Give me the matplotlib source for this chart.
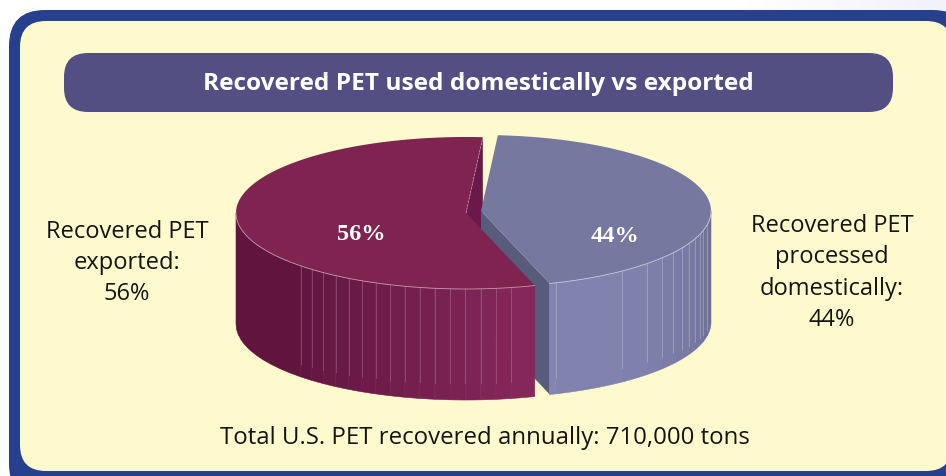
import numpy as np
import matplotlib
matplotlib.use("Agg")
import matplotlib.pyplot as plt
from matplotlib.colors import to_rgb
from matplotlib.patches import FancyBboxPatch, Polygon

# data
categories = ["Recovered PET exported", "Recovered PET processed domestically"]
shares = [56, 44]
side_labels = ["Recovered PET\nexported:\n56%", "Recovered PET\nprocessed\ndomestically:\n44%"]
title = "Recovered PET used domestically vs exported"
footer = "Total U.S. PET recovered annually: 710,000 tons"

# pie geometry, in picture pixels
START_ANGLE = 85.8
RX, RY, DEPTH = 230, 76, 111
RED_C = (466, 213)
BLUE_C = (481, 211)
RED_TOP, RED_CUT, RED_L, RED_R = "#7f2450", "#6a1a4a", "#60143e", "#84275a"
BLUE_TOP, BLUE_CUT, BLUE_L, BLUE_R = "#75789f", "#575b7c", "#8285af", "#6d7098"
RIM_RED, RIM_BLUE = "#c59aa8", "#c9cbd8"


def pt(c, ang, drop=0):
    a = np.radians(ang)
    return c[0] + RX * np.cos(a), c[1] - RY * np.sin(a) + drop


def arc(c, a0, a1, drop=0, n=120):
    return np.array([pt(c, a, drop) for a in np.linspace(a0, a1, n)])


def mix(c0, c1, t):
    return tuple((1 - t) * np.array(to_rgb(c0)) + t * np.array(to_rgb(c1)))


def wall(ax, c, edges, col0, col1, line_col):
    # one flat band between each pair of edges, with a thin light seam
    for i in range(len(edges) - 1):
        a0, a1 = edges[i], edges[i + 1]
        t = i / max(len(edges) - 2, 1)
        pts = np.vstack([arc(c, a0, a1, n=12), arc(c, a1, a0, DEPTH, n=12)])
        col = mix(col0, col1, t)
        ax.add_patch(Polygon(pts, closed=True, fc=col, ec=col, lw=0.4, zorder=3))
        if 0 < i:
            x, y = pt(c, a0)
            ax.plot([x, x], [y, y + DEPTH * (0.97 - 0.12 * abs(np.sin(np.radians(a0))))],
                    color=line_col, lw=0.6, alpha=0.4, zorder=3.1)


fig = plt.figure(figsize=(9.46, 4.76), dpi=100, facecolor="white")
ax = fig.add_axes([0, 0, 1, 1])
ax.set_xlim(0, 946)
ax.set_ylim(476, 0)
ax.axis("off")

# faint lavender wash behind the top right corner
wash = np.linspace(0, 1, 200)[None, :, None] * (np.array(to_rgb("#f1f2fa")) - 1) + 1
ax.imshow(wash, extent=(746, 946, 476, 0), aspect="auto", zorder=0)
ax.set_xlim(0, 946)
ax.set_ylim(476, 0)

ax.add_patch(FancyBboxPatch((9, 10), 960, 490, boxstyle="round,pad=0,rounding_size=36",
                            fc="#26408d", ec="none", zorder=1))
ax.add_patch(FancyBboxPatch((20, 21), 932, 450, boxstyle="round,pad=0,rounding_size=26",
                            fc="#fffacd", ec="none", zorder=1.1))
ax.add_patch(FancyBboxPatch((64, 53), 829, 59, boxstyle="round,pad=0,rounding_size=24",
                            fc="#544f82", ec="none", zorder=2))
ax.text(478, 84, title, color="white", fontsize=17.6, fontweight="bold",
        family="Open Sans", ha="center", va="center", zorder=5)

# angles follow from the shares
red_end = START_ANGLE + 360 * shares[0] / sum(shares)
blue_end = red_end + 360 * shares[1] / sum(shares)

# red cut face at the back shows through the gap
s = pt(RED_C, START_ANGLE)
ax.add_patch(Polygon([RED_C, s, (s[0], s[1] + DEPTH), (RED_C[0], RED_C[1] + DEPTH)],
                     closed=True, fc=RED_CUT, ec="none", zorder=2.5))

# blue slice
e = pt(BLUE_C, red_end)
ax.add_patch(Polygon([BLUE_C, e, (e[0], e[1] + DEPTH), (BLUE_C[0], BLUE_C[1] + DEPTH)],
                     closed=True, fc=BLUE_CUT, ec="none", zorder=2.6))
blue_edges = [red_end, 288.9, 307.7, 316.1, 321.8, 326.5, 331, 334.5, 338.3, 342, 345.2, 349.4, 360]
wall(ax, BLUE_C, blue_edges, BLUE_L, BLUE_R, "#d8d9e4")
ax.add_patch(Polygon(np.vstack([[BLUE_C], arc(BLUE_C, red_end, blue_end, n=300)]),
                     closed=True, fc=BLUE_TOP, ec="none", zorder=3.5))
ax.plot(*arc(BLUE_C, red_end, 360).T, color=RIM_BLUE, lw=0.6, zorder=3.6)

# red slice
red_edges = [180, 224] + [224 + 3.82 * i for i in range(1, 15)] + [281.3, red_end]
wall(ax, RED_C, red_edges, RED_L, RED_R, "#c598aa")
ax.add_patch(Polygon(np.vstack([[RED_C], arc(RED_C, START_ANGLE, red_end, n=300)]),
                     closed=True, fc=RED_TOP, ec="none", zorder=4))
ax.plot(*arc(RED_C, 180, red_end).T, color=RIM_RED, lw=0.6, zorder=4.1)
ax.plot([RED_C[0], s[0]], [RED_C[1], s[1]], color=RIM_RED, lw=0.5, ls=(0, (3, 2)), zorder=4.1)

ax.text(361, 235, "%d%%" % shares[0], color="white", fontsize=17.5, fontweight="bold",
        family="Liberation Serif", ha="center", va="center", zorder=5)
ax.text(615, 236, "%d%%" % shares[1], color="white", fontsize=17.5, fontweight="bold",
        family="Liberation Serif", ha="center", va="center", zorder=5)

ax.text(127, 263, side_labels[0], color="#141414", fontsize=17, family="Open Sans",
        ha="center", va="center", linespacing=1.39, zorder=5)
ax.text(832, 273, side_labels[1], color="#141414", fontsize=17, family="Open Sans",
        ha="center", va="center", linespacing=1.42, zorder=5)
ax.text(485, 438, footer, color="#141414", fontsize=17.3, family="Open Sans",
        ha="center", va="center", zorder=5)

fig.savefig("out.png", dpi=100, facecolor="white")
